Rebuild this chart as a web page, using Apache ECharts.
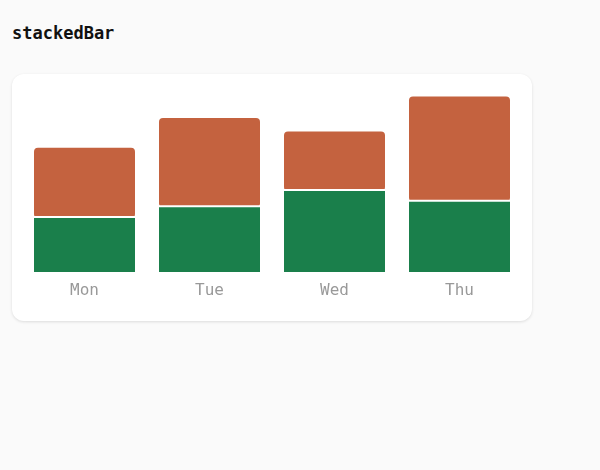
<!DOCTYPE html>
<html>
<head>
<meta charset="utf-8">
<script src="https://cdn.jsdelivr.net/npm/echarts@6/dist/echarts.min.js"></script>
<style>
  body {
    margin: 0;
    background: #fafafa;
    width: 600px;
    height: 470px;
    position: relative;
  }
  .title {
    position: absolute;
    left: 12px;
    top: 23px;
    font-family: "DejaVu Sans Mono", monospace;
    font-weight: bold;
    font-size: 17px;
    color: #111;
  }
  .card {
    position: absolute;
    left: 12px;
    top: 74px;
    width: 520px;
    height: 247px;
    background: #fff;
    border-radius: 12px;
    box-shadow: 0 1px 3px rgba(0, 0, 0, 0.12);
  }
  #main {
    width: 520px;
    height: 247px;
  }
</style>
</head>
<body>
<div class="title">stackedBar</div>
<div class="card"><div id="main"></div></div>
<script>
// values
var days = ['Mon', 'Tue', 'Wed', 'Thu'];
var lower = [20, 24, 30, 26];
var upper = [26, 33, 22, 39];

var myChart = echarts.init(document.getElementById('main'));
var option = {
    animation: false,
    grid: {
        left: 10,
        right: 10,
        top: 9,
        bottom: 49
    },
    xAxis: {
        type: 'category',
        data: days,
        axisLine: { show: false },
        axisTick: { show: false },
        axisLabel: {
            color: '#999',
            fontFamily: 'DejaVu Sans Mono',
            fontSize: 16,
            margin: 11
        }
    },
    yAxis: {
        type: 'value',
        min: 0,
        max: 70,
        show: false,
        splitLine: { show: false }
    },
    series: [
        {
            name: 'lower',
            type: 'bar',
            stack: 'total',
            barWidth: 101,
            z: 3,
            // white strip above the green part, separating it from the orange one
            itemStyle: {
                color: '#1a7f4b',
                shadowColor: '#ffffff',
                shadowBlur: 0,
                shadowOffsetY: -2
            },
            data: lower
        },
        {
            name: 'upper',
            type: 'bar',
            stack: 'total',
            barWidth: 101,
            z: 2,
            itemStyle: {
                color: '#c4623f',
                borderRadius: [4, 4, 4, 4]
            },
            data: upper
        }
    ]
};
myChart.setOption(option);
</script>
</body>
</html>
